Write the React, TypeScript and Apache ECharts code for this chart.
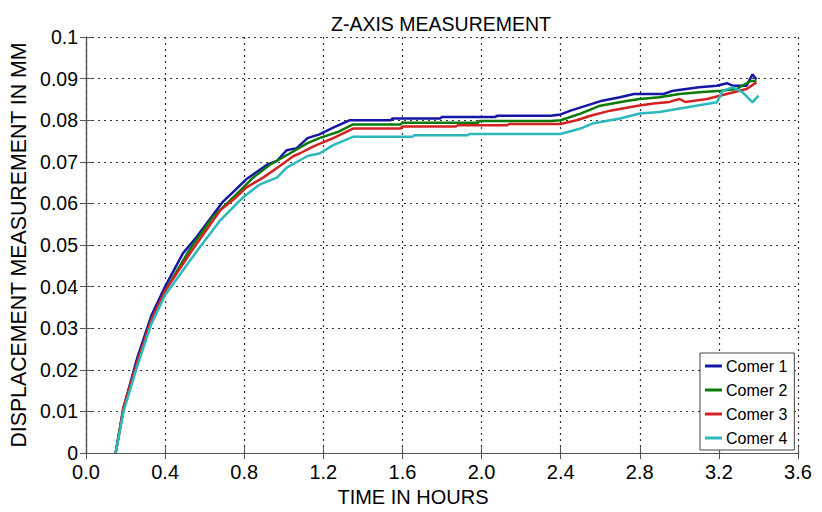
import React, { useEffect, useRef } from "react";
import * as echarts from "echarts";

const seriesNames = ["Comer 1", "Comer 2", "Comer 3", "Comer 4"];
const seriesColors = ["#1616a6", "#0b7a0b", "#d42222", "#2cb8bc"];

const comer1: number[][] = [
  [0.15, 0], [0.19, 0.011], [0.26, 0.023], [0.33, 0.033], [0.40, 0.040], [0.49, 0.048],
  [0.56, 0.052], [0.61, 0.0552], [0.69, 0.0603], [0.75, 0.063], [0.81, 0.0658], [0.87, 0.0678],
  [0.915, 0.0693], [0.965, 0.0702], [1.015, 0.0728], [1.065, 0.0733], [1.12, 0.0757],
  [1.18, 0.0766], [1.25, 0.0782], [1.335, 0.080], [1.54, 0.080], [1.55, 0.0804], [1.79, 0.0804],
  [1.80, 0.0808], [2.07, 0.0808], [2.08, 0.0811], [2.35, 0.0811], [2.40, 0.0814], [2.45, 0.0823],
  [2.53, 0.0835], [2.61, 0.0847], [2.70, 0.0855], [2.77, 0.0863], [2.92, 0.0863], [2.97, 0.0871],
  [3.10, 0.0879], [3.19, 0.0883], [3.24, 0.0889], [3.27, 0.0883], [3.34, 0.0883], [3.37, 0.091],
  [3.39, 0.0898],
];

const comer2: number[][] = [
  [0.15, 0], [0.19, 0.011], [0.26, 0.022], [0.33, 0.032], [0.40, 0.039], [0.525, 0.049],
  [0.64, 0.0567], [0.76, 0.0622], [0.845, 0.0662], [0.93, 0.0693], [1.03, 0.072], [1.12, 0.0745],
  [1.18, 0.0757], [1.28, 0.0773], [1.35, 0.079], [1.59, 0.079], [1.60, 0.0794], [1.98, 0.0794],
  [1.99, 0.0798], [2.35, 0.0798], [2.40, 0.080], [2.50, 0.0816], [2.60, 0.0835], [2.74, 0.0847],
  [2.80, 0.0851], [2.90, 0.0855], [3.0, 0.0863], [3.10, 0.0867], [3.21, 0.0871], [3.29, 0.0875],
  [3.36, 0.0894], [3.39, 0.0894],
];

const comer3: number[][] = [
  [0.15, 0], [0.19, 0.011], [0.26, 0.022], [0.33, 0.032], [0.40, 0.039], [0.54, 0.049],
  [0.68, 0.0584], [0.76, 0.0615], [0.81, 0.0638], [0.895, 0.0662], [0.98, 0.069], [1.05, 0.0714],
  [1.08, 0.072], [1.15, 0.0737], [1.25, 0.0757], [1.35, 0.078], [1.59, 0.078], [1.60, 0.0785],
  [1.87, 0.0785], [1.88, 0.0788], [2.13, 0.0788], [2.14, 0.0791], [2.40, 0.0791], [2.48, 0.080],
  [2.56, 0.0812], [2.65, 0.0823], [2.79, 0.0835], [2.87, 0.084], [2.95, 0.0844], [3.0, 0.0851],
  [3.03, 0.0844], [3.14, 0.0851], [3.24, 0.0863], [3.34, 0.0875], [3.39, 0.0891],
];

const comer4: number[][] = [
  [0.15, 0], [0.19, 0.010], [0.26, 0.021], [0.33, 0.031], [0.40, 0.038], [0.56, 0.0485],
  [0.68, 0.056], [0.795, 0.0615], [0.88, 0.0646], [0.965, 0.0662], [1.015, 0.0686], [1.12, 0.0714],
  [1.18, 0.072], [1.25, 0.074], [1.35, 0.076], [1.65, 0.076], [1.66, 0.0764], [1.93, 0.0764],
  [1.94, 0.0767], [2.40, 0.0767], [2.50, 0.078], [2.56, 0.0792], [2.70, 0.0804], [2.80, 0.0816],
  [2.90, 0.082], [3.04, 0.0831], [3.19, 0.0843], [3.22, 0.0871], [3.27, 0.0879], [3.32, 0.0867],
  [3.37, 0.0843], [3.40, 0.0859],
];

const seriesData = [comer1, comer2, comer3, comer4];

const FONT = "Liberation Sans, Arial, sans-serif";

export default function App() {
  const ref = useRef<HTMLDivElement>(null);
  useEffect(() => {
    if (!ref.current) return;
    const chart = echarts.init(ref.current, undefined, { renderer: "svg" });
    const axisLine = { show: true, lineStyle: { color: "#555", width: 1.2 } };
    const tick = { show: true, inside: true, length: 6, lineStyle: { color: "#555" } };
    const split = { show: true, lineStyle: { color: "#333", type: [2, 4] as any, width: 1.2 } };
    chart.setOption({
      animation: false,
      backgroundColor: "#fff",
      title: {
        text: "Z-AXIS MEASUREMENT",
        left: 436,
        top: 9,
        textAlign: "center",
        textStyle: { fontFamily: FONT, fontSize: 19.5, fontWeight: "normal", color: "#000" },
      },
      grid: { left: 86, top: 37, width: 712, height: 423, show: false },
      legend: {
        orient: "vertical",
        left: 700,
        top: 353,
        padding: [5, 7, 4, 5],
        itemGap: 8,
        itemWidth: 17,
        itemHeight: 3,
        icon: "rect",
        data: seriesNames,
        textStyle: { fontFamily: FONT, fontSize: 16, color: "#000", padding: [0, 0, 0, -1] },
        backgroundColor: "#fff",
        borderColor: "#444",
        borderWidth: 1,
      },
      xAxis: [
        {
          type: "value",
          min: 0,
          max: 3.6,
          interval: 0.4,
          name: "TIME IN HOURS",
          nameLocation: "middle",
          nameGap: 32,
          nameTextStyle: {
            fontFamily: FONT,
            fontSize: 20,
            color: "#000",
            padding: [0, 58, 0, 0],
          },
          axisLine,
          axisTick: tick,
          splitLine: split,
          axisLabel: {
            fontFamily: FONT,
            fontSize: 20,
            color: "#000",
            margin: 9,
            formatter: (v: number) => v.toFixed(1),
          },
        },
        {
          type: "value",
          position: "top",
          min: 0,
          max: 3.6,
          interval: 0.4,
          axisLine,
          axisTick: tick,
          splitLine: { show: false },
          axisLabel: { show: false },
        },
      ],
      yAxis: [
        {
          type: "value",
          min: 0,
          max: 0.1,
          interval: 0.01,
          name: "DISPLACEMENT MEASUREMENT IN MM",
          nameLocation: "middle",
          nameGap: 51,
          nameTextStyle: { fontFamily: FONT, fontSize: 21.3, color: "#000" },
          axisLine,
          axisTick: tick,
          splitLine: split,
          axisLabel: {
            fontFamily: FONT,
            fontSize: 19.5,
            color: "#000",
            margin: 8,
            formatter: (v: number) => String(Math.round(v * 100) / 100),
          },
        },
        {
          type: "value",
          position: "right",
          min: 0,
          max: 0.1,
          interval: 0.01,
          axisLine,
          axisTick: tick,
          splitLine: { show: false },
          axisLabel: { show: false },
        },
      ],
      series: seriesNames.map((name, i) => ({
        name,
        type: "line",
        xAxisIndex: 0,
        yAxisIndex: 0,
        data: seriesData[i],
        showSymbol: false,
        symbol: "none",
        color: seriesColors[i],
        lineStyle: { color: seriesColors[i], width: 2.5 },
      })),
    });
    return () => chart.dispose();
  }, []);
  return (
    <div
      ref={ref}
      style={{ position: "fixed", left: 0, top: 0, width: 822, height: 512 }}
    />
  );
}
